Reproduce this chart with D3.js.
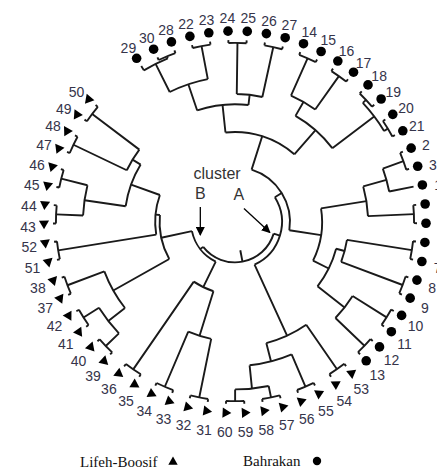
<!DOCTYPE html>
<html>
<head>
<meta charset="utf-8">
<script src="https://cdn.jsdelivr.net/npm/d3@7"></script>
<style>
body { margin: 0; background: #fff; }
</style>
</head>
<body>
<script>
var w = 437;
var h = 470;
var cx = 235;
var cy = 222;

// leaves clockwise, starting after the gap at the top left
var leafOrder = [29, 30, 28, 22, 23, 24, 25, 26, 27, 14, 15, 16, 17, 18, 19, 20, 21,
    2, 3, 1, 4, 5, 6, 7, 8, 9, 10, 11, 12, 13, 53, 54, 55, 56, 57, 58, 59, 60,
    31, 32, 33, 34, 35, 36, 39, 40, 41, 42, 37, 38, 51, 52, 43, 44, 45, 46, 47, 48, 49, 50];

// populations
var bahrakan = d3.range(1, 31);
var lifehBoosif = d3.range(31, 61);

// merge steps: [child, child, distance]; numbers are leaves, "m#" is an earlier step
var merges = [
    [30, 28, 0.02], [29, "m0", 0.035], [22, 23, 0.02], ["m1", "m2", 0.25],
    [24, 25, 0.02], [26, 27, 0.02], ["m4", "m5", 0.37], ["m3", "m6", 0.44],
    [14, 15, 0.02], [16, 17, 0.02], ["m8", "m9", 0.30],
    [18, 19, 0.02], [20, 21, 0.02], ["m11", "m12", 0.05], ["m10", "m13", 0.41],
    ["m7", "m14", 0.63],
    [2, 3, 0.02], ["m16", 1, 0.17], [4, 5, 0.02], ["m17", "m18", 0.335],
    [6, 7, 0.02], [8, 9, 0.02], ["m20", "m21", 0.47],
    [10, 11, 0.02], [12, 13, 0.02], ["m23", "m24", 0.295], ["m22", "m25", 0.53],
    ["m19", "m26", 0.65],
    ["m15", "m27", 0.87],
    [53, 54, 0.02], [55, 56, 0.02], [57, 58, 0.02], [59, 60, 0.02],
    ["m31", "m32", 0.10], ["m30", "m33", 0.26], ["m29", "m34", 0.39],
    ["m28", "m35", 0.925],
    [31, 32, 0.02], [33, 34, 0.02], ["m37", "m38", 0.43], [35, 36, 0.02], ["m40", "m39", 0.75],
    [39, 40, 0.02], [41, 42, 0.02], ["m42", "m43", 0.145], [37, 38, 0.02], ["m45", "m44", 0.29],
    [51, 52, 0.02], [43, 44, 0.02], [45, 46, 0.02], ["m48", "m49", 0.205],
    [47, 48, 0.02], [49, 50, 0.02], ["m51", "m52", 0.425], ["m50", "m53", 0.49],
    ["m47", "m54", 0.70], ["m46", "m55", 0.73],
    ["m41", "m56", 0.945],
    ["m36", "m57", 0.97]
];

var svg = d3.select("body")
    .append("svg")
        .attr("width", w)
        .attr("height", h)
        .style("font-family", "Arial, 'Liberation Sans', sans-serif");

// build the tree from the merge steps
var nodes = {};
leafOrder.forEach(function(d) { nodes[d] = {name: d, dist: 0}; });
merges.forEach(function(m, i) {
    nodes["m" + i] = {name: "m" + i, dist: m[2], children: [nodes[m[0]], nodes[m[1]]]};
});
var root = d3.hierarchy(nodes["m" + (merges.length - 1)]);

var angle = d3.scalePoint().domain(leafOrder).range([-31, 310]);
var radius = d3.scaleLinear().domain([0, 1]).range([182, 36]);

root.eachAfter(function(n) {
    if (!n.children) n.a = angle(n.data.name);
    else n.a = (n.children[0].a + n.children[1].a) / 2;
    n.r = radius(n.data.dist);
});

var rad = function(a) { return a * Math.PI / 180; };
var px = function(a, r) { return cx + r * Math.sin(rad(a)); };
var py = function(a, r) { return cy - r * Math.cos(rad(a)); };

var branchPath = function(n) {
    var a0 = d3.min(n.children, function(c) { return c.a; });
    var a1 = d3.max(n.children, function(c) { return c.a; });
    var p = d3.path();
    p.arc(cx, cy, n.r, rad(a0 - 90), rad(a1 - 90));
    n.children.forEach(function(c) {
        p.moveTo(px(c.a, n.r), py(c.a, n.r));
        p.lineTo(px(c.a, c.r), py(c.a, c.r));
    });
    return p.toString();
};

var tree = svg.append("g")
    .attr("fill", "none")
    .attr("stroke", "#1a1a1a")
    .attr("stroke-width", 1.9);

tree.selectAll("path.branch")
    .data(root.descendants().filter(function(d) { return d.children; }))
    .enter()
    .append("path")
        .attr("class", "branch")
        .attr("d", branchPath);

// root stub
tree.append("line")
    .attr("x1", px(root.a, root.r))
    .attr("y1", py(root.a, root.r))
    .attr("x2", px(root.a, radius(1.05)))
    .attr("y2", py(root.a, radius(1.05)));

// leaf markers
var leaves = root.leaves();
var markerR = 191;
var tri = d3.symbol().type(d3.symbolTriangle).size(44);

svg.selectAll("g.leaf")
    .data(leaves)
    .enter()
    .append("g")
        .attr("class", "leaf")
        .attr("transform", function(d) {
            return "translate(" + px(d.a, markerR) + "," + py(d.a, markerR) + ")";
        })
    .each(function(d) {
        var g = d3.select(this);
        if (bahrakan.indexOf(d.data.name) >= 0) {
            g.append("circle").attr("r", 4.8).attr("fill", "#000");
        } else {
            g.append("path").attr("d", tri()).attr("fill", "#000")
                .attr("transform", "rotate(" + (d.a - 90) + ")");
        }
    });

// leaf labels
var labelR = 207;
svg.selectAll("text.label")
    .data(leaves)
    .enter()
    .append("text")
        .attr("class", "label")
        .attr("x", function(d) { return px(d.a, labelR); })
        .attr("y", function(d) { return py(d.a, labelR) + 3; })
        .attr("text-anchor", "middle")
        .attr("dominant-baseline", "central")
        .attr("font-size", 14)
        .attr("fill", "#35344a")
        .text(function(d) { return d.data.name; });

// cluster annotations
var nodeA = nodes["m36"], nodeB = nodes["m57"];
var hA = root.descendants().find(function(d) { return d.data === nodeA; });
var hB = root.descendants().find(function(d) { return d.data === nodeB; });
var ax = px(hA.a, hA.r), ay = py(hA.a, hA.r);
var bx = px(hB.a, hB.r), by = py(hB.a, hB.r);

var defs = svg.append("defs");
defs.append("marker")
    .attr("id", "arrow")
    .attr("viewBox", "0 0 10 10")
    .attr("refX", 9)
    .attr("refY", 5)
    .attr("markerWidth", 7)
    .attr("markerHeight", 7)
    .attr("orient", "auto")
    .append("path")
        .attr("d", "M0,0L10,5L0,10z")
        .attr("fill", "#000");

svg.append("line")
    .attr("x1", bx).attr("y1", by - 42)
    .attr("x2", bx).attr("y2", by - 14)
    .attr("stroke", "#000").attr("stroke-width", 1.3)
    .attr("marker-end", "url(#arrow)");
svg.append("line")
    .attr("x1", ax - 36).attr("y1", ay - 27)
    .attr("x2", ax - 10).attr("y2", ay - 3)
    .attr("stroke", "#000").attr("stroke-width", 1.3)
    .attr("marker-end", "url(#arrow)");

svg.append("text").attr("x", bx).attr("y", by - 50)
    .attr("text-anchor", "middle").attr("font-size", 16).attr("fill", "#333").text("B");
svg.append("text").attr("x", ax - 41).attr("y", ay - 36)
    .attr("text-anchor", "middle").attr("font-size", 16).attr("fill", "#333").text("A");
svg.append("text").attr("x", (ax + bx) / 2 - 23).attr("y", by - 70)
    .attr("text-anchor", "middle").attr("font-size", 16).attr("fill", "#333").text("cluster");

// legend
var legend = svg.append("g")
    .style("font-family", "'Liberation Serif', 'Times New Roman', serif")
    .attr("font-size", 15)
    .attr("fill", "#111");
legend.append("text").attr("x", 80).attr("y", 467).text("Lifeh-Boosif");
legend.append("path").attr("d", tri.size(38)()).attr("transform", "translate(173,462)").attr("fill", "#000");
legend.append("text").attr("x", 243).attr("y", 466).text("Bahrakan");
legend.append("circle").attr("cx", 317).attr("cy", 461).attr("r", 4.2).attr("fill", "#000");
</script>
</body>
</html>
